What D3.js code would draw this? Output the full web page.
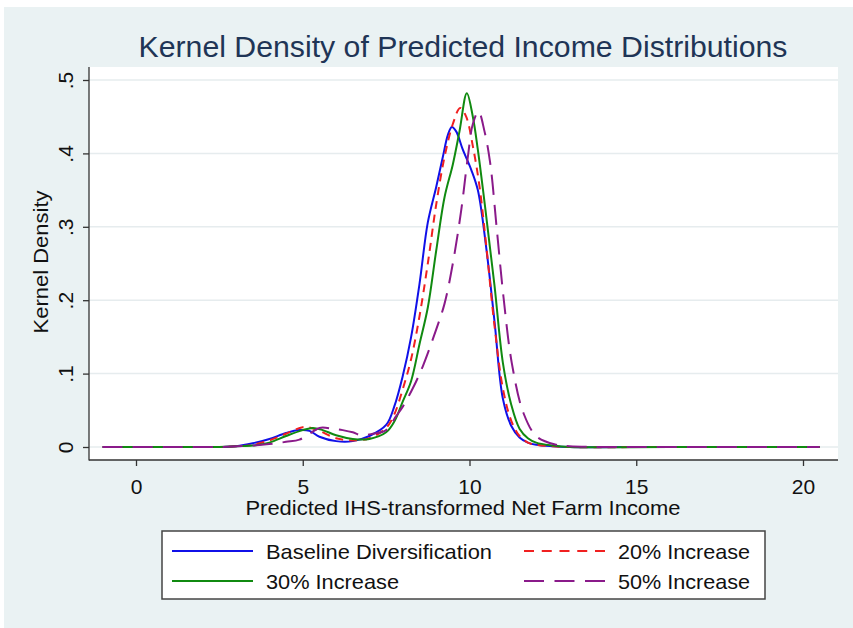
<!DOCTYPE html>
<html>
<head>
<meta charset="utf-8">
<script src="https://cdn.jsdelivr.net/npm/d3@7"></script>
<style>
  body { margin: 0; background: #fff; }
  text { font-family: "Liberation Sans", Arial, sans-serif; }
</style>
</head>
<body>
<script>
// series: [x, density] pairs
const baseline = [[-1,0],[1,0],[2.5,0],[3,0.001],[3.5,0.005],[4,0.011],[4.5,0.019],[4.9,0.023],[5.2,0.022],[5.5,0.014],[6,0.008],[6.5,0.008],[7,0.015],[7.5,0.03],[7.75,0.056],[8,0.097],[8.25,0.15],[8.5,0.222],[8.75,0.306],[9,0.354],[9.2,0.395],[9.35,0.425],[9.47,0.436],[9.6,0.43],[9.8,0.405],[10.05,0.378],[10.25,0.35],[10.5,0.272],[10.75,0.171],[11,0.066],[11.25,0.029],[11.5,0.013],[11.75,0.006],[12,0.003],[12.5,0.001],[13,0],[16,0],[20.5,0]];
const inc20 = [[-1,0],[1,0],[2.5,0],[3,0.001],[3.5,0.003],[4,0.009],[4.5,0.018],[5,0.027],[5.25,0.026],[5.5,0.022],[6,0.012],[6.5,0.009],[7,0.012],[7.5,0.026],[7.75,0.045],[8,0.079],[8.25,0.12],[8.5,0.178],[8.75,0.25],[9,0.33],[9.25,0.395],[9.5,0.44],[9.72,0.462],[9.9,0.45],[10.1,0.41],[10.3,0.355],[10.5,0.275],[10.75,0.165],[11,0.08],[11.25,0.036],[11.5,0.015],[11.75,0.006],[12,0.003],[12.5,0.001],[13,0],[16,0],[20.5,0]];
const inc30 = [[-1,0],[1,0],[2.5,0],[3,0.001],[3.5,0.002],[4,0.006],[4.5,0.015],[5,0.023],[5.3,0.026],[5.6,0.023],[6,0.016],[6.5,0.011],[7,0.011],[7.5,0.02],[7.75,0.035],[8,0.062],[8.25,0.09],[8.5,0.14],[8.75,0.19],[9,0.267],[9.25,0.34],[9.5,0.385],[9.7,0.43],[9.92,0.482],[10.1,0.45],[10.25,0.405],[10.5,0.315],[10.75,0.22],[11,0.115],[11.25,0.058],[11.5,0.025],[11.75,0.012],[12,0.006],[12.5,0.002],[13,0],[16,0],[20.5,0]];
const inc50 = [[-1,0],[1,0],[2.5,0],[3,0.001],[3.5,0.002],[4,0.004],[4.5,0.007],[4.9,0.01],[5.2,0.018],[5.5,0.026],[5.9,0.025],[6.2,0.023],[6.5,0.02],[6.75,0.016],[7.1,0.018],[7.5,0.023],[7.8,0.042],[8,0.055],[8.3,0.08],[8.6,0.11],[9,0.16],[9.25,0.195],[9.5,0.25],[9.75,0.322],[9.95,0.395],[10.1,0.44],[10.27,0.457],[10.45,0.43],[10.62,0.387],[10.82,0.296],[11.02,0.204],[11.27,0.114],[11.62,0.046],[12.02,0.014],[12.6,0.003],[13,0.001],[14,0],[16,0],[20.5,0]];

const seriesNames = ["Baseline Diversification", "20% Increase", "30% Increase", "50% Increase"];
const seriesData = [baseline, inc20, inc30, inc50];
const seriesColors = ["#1010e8", "#f02020", "#108a10", "#8a1a8a"];
const seriesDash = [null, "8,6", null, "20,10"];
const legendDash = [null, "10,7.75", null, "20,10.5"];

const xTicks = [0, 5, 10, 15, 20];
const yTicks = [0, 0.1, 0.2, 0.3, 0.4, 0.5];
const yTickLabels = ["0", ".1", ".2", ".3", ".4", ".5"];

const W = 853, H = 628;
const plot = { left: 89, right: 838, top: 67, bottom: 460 };

const svg = d3.select("body").append("svg")
    .attr("width", W)
    .attr("height", H);

svg.append("rect")
    .attr("x", 4).attr("y", 7)
    .attr("width", W - 4).attr("height", H - 7)
    .attr("fill", "#eaf2f3");

svg.append("rect")
    .attr("x", plot.left).attr("y", plot.top)
    .attr("width", plot.right - plot.left).attr("height", plot.bottom - plot.top)
    .attr("fill", "#fff");

const x = d3.scaleLinear().domain([0, 20]).range([136, 803]);
const y = d3.scaleLinear().domain([0, 0.5]).range([447, 80]);

// grid
svg.append("g").selectAll("line")
    .data(yTicks)
    .join("line")
    .attr("x1", plot.left).attr("x2", plot.right)
    .attr("y1", d => y(d)).attr("y2", d => y(d))
    .attr("stroke", "#e6ecee")
    .attr("stroke-width", 1.5);

// curves
const line = d3.line()
    .x(d => x(d[0]))
    .y(d => y(d[1]))
    .curve(d3.curveCatmullRom.alpha(0.5));

svg.append("g").selectAll("path")
    .data(seriesData)
    .join("path")
    .attr("d", line)
    .attr("fill", "none")
    .attr("stroke", (d, i) => seriesColors[i])
    .attr("stroke-width", 2)
    .attr("stroke-dasharray", (d, i) => seriesDash[i]);

// axes
const yAxis = svg.append("g")
    .attr("transform", `translate(${plot.left},0)`)
    .call(d3.axisLeft(y).tickValues(yTicks).tickSize(6).tickSizeOuter(0)
        .tickFormat((d, i) => yTickLabels[i]));
yAxis.select(".domain").remove();
yAxis.selectAll(".tick line").attr("stroke", "#333").attr("stroke-width", 1.3);
yAxis.selectAll(".tick text")
    .attr("transform", "rotate(-90)")
    .attr("x", 0).attr("y", -16).attr("dy", 0)
    .attr("text-anchor", "middle")
    .attr("fill", "#111")
    .style("font-size", "21px");

const xAxis = svg.append("g")
    .attr("transform", `translate(0,${plot.bottom})`)
    .call(d3.axisBottom(x).tickValues(xTicks).tickSize(6).tickSizeOuter(0));
xAxis.select(".domain").remove();
xAxis.selectAll(".tick line").attr("stroke", "#333").attr("stroke-width", 1.3);
xAxis.selectAll(".tick text")
    .attr("y", 34).attr("dy", 0)
    .attr("fill", "#111")
    .style("font-size", "21px");

svg.append("line")
    .attr("x1", plot.left).attr("x2", plot.left)
    .attr("y1", plot.top).attr("y2", plot.bottom + 0.5)
    .attr("stroke", "#333").attr("stroke-width", 1.3);
svg.append("line")
    .attr("x1", plot.left).attr("x2", plot.right)
    .attr("y1", plot.bottom).attr("y2", plot.bottom)
    .attr("stroke", "#333").attr("stroke-width", 1.3);

// titles
svg.append("text")
    .attr("x", 463).attr("y", 57)
    .attr("text-anchor", "middle")
    .attr("fill", "#1f3556")
    .attr("textLength", 649)
    .attr("lengthAdjust", "spacingAndGlyphs")
    .style("font-size", "29px")
    .text("Kernel Density of Predicted Income Distributions");

svg.append("text")
    .attr("transform", "translate(48,262) rotate(-90)")
    .attr("text-anchor", "middle")
    .attr("fill", "#111")
    .attr("textLength", 143)
    .attr("lengthAdjust", "spacingAndGlyphs")
    .style("font-size", "21px")
    .text("Kernel Density");

svg.append("text")
    .attr("x", 463).attr("y", 515)
    .attr("text-anchor", "middle")
    .attr("fill", "#111")
    .attr("textLength", 435)
    .attr("lengthAdjust", "spacingAndGlyphs")
    .style("font-size", "21px")
    .text("Predicted IHS-transformed Net Farm Income");

// legend
const legend = svg.append("g");
legend.append("rect")
    .attr("x", 162).attr("y", 531)
    .attr("width", 603).attr("height", 68)
    .attr("fill", "#fff")
    .attr("stroke", "#444").attr("stroke-width", 1.5);

const legPos = [[172, 551], [524, 551], [172, 581], [524, 581]];
const legTextLen = [226, 132, 133, 132];
const item = legend.selectAll("g.item")
    .data(seriesNames)
    .join("g")
    .attr("class", "item")
    .attr("transform", (d, i) => `translate(${legPos[i][0]},${legPos[i][1]})`);
item.append("line")
    .attr("x1", 0).attr("x2", 81)
    .attr("stroke", (d, i) => seriesColors[i])
    .attr("stroke-width", 2)
    .attr("stroke-dasharray", (d, i) => legendDash[i]);
item.append("text")
    .attr("x", 94).attr("y", 8)
    .attr("fill", "#111")
    .attr("textLength", (d, i) => legTextLen[i])
    .attr("lengthAdjust", "spacingAndGlyphs")
    .style("font-size", "21px")
    .text(d => d);
</script>
</body>
</html>
